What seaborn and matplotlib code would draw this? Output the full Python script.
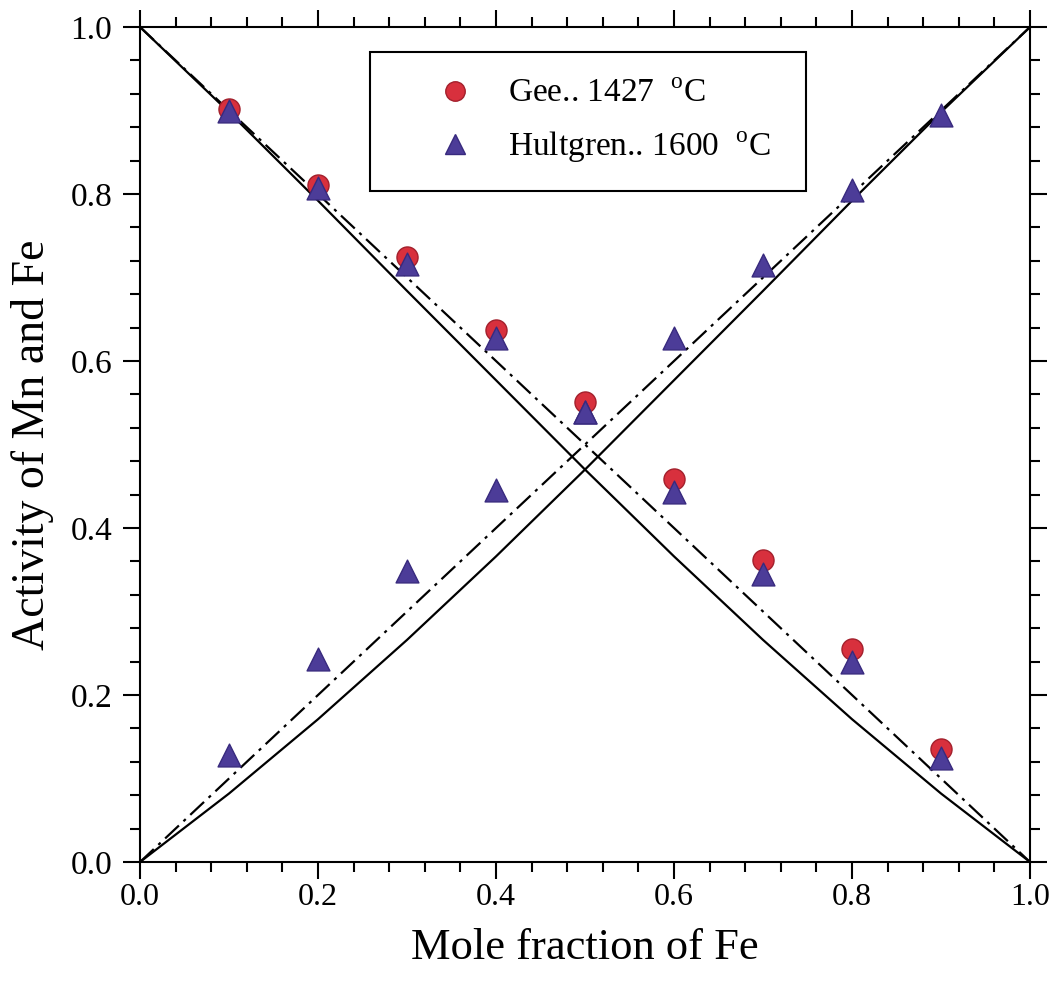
import matplotlib
matplotlib.use("Agg")
import matplotlib.pyplot as plt
from matplotlib.ticker import MultipleLocator, FormatStrFormatter
from matplotlib.lines import Line2D
import seaborn as sns
import pandas as pd

# Calculated activities (model) vs. mole fraction of Fe
x_calc = [0.0, 0.1, 0.2, 0.3, 0.4, 0.5, 0.6, 0.7, 0.8, 0.9, 1.0]
a_fe_calc = [0.0, 0.082, 0.171, 0.266, 0.366, 0.470, 0.577, 0.684, 0.792, 0.898, 1.0]
a_mn_calc = [1.0, 0.898, 0.792, 0.684, 0.577, 0.470, 0.366, 0.266, 0.171, 0.082, 0.0]

# Raoultian (ideal) activities
a_fe_ideal = [0.0, 0.1, 0.2, 0.3, 0.4, 0.5, 0.6, 0.7, 0.8, 0.9, 1.0]
a_mn_ideal = [1.0, 0.9, 0.8, 0.7, 0.6, 0.5, 0.4, 0.3, 0.2, 0.1, 0.0]

# Experimental activities
x_exp = [0.1, 0.2, 0.3, 0.4, 0.5, 0.6, 0.7, 0.8, 0.9]
gee_a_mn = [0.902, 0.811, 0.724, 0.637, 0.551, 0.459, 0.362, 0.255, 0.135]
hult_a_mn = [0.899, 0.807, 0.716, 0.627, 0.539, 0.443, 0.345, 0.239, 0.124]
hult_a_fe = [0.128, 0.243, 0.348, 0.445, 0.539, 0.627, 0.715, 0.805, 0.895]

label_gee = r"Gee.. 1427  $^{\mathrm{o}}$C"
label_hult = r"Hultgren.. 1600  $^{\mathrm{o}}$C"

sns.set_style("ticks")
plt.rcParams["font.family"] = ["Liberation Serif", "DejaVu Serif"]
plt.rcParams["mathtext.fontset"] = "custom"
plt.rcParams["mathtext.rm"] = "Liberation Serif"
for key in ["text.color", "axes.labelcolor", "xtick.color", "ytick.color",
            "axes.edgecolor"]:
    plt.rcParams[key] = "black"

fig = plt.figure(figsize=(10.56, 9.9), dpi=100)
ax = fig.add_axes([0.1326, 0.1293, 0.8428, 0.8434])

calc = pd.DataFrame({"x": x_calc, "fe": a_fe_calc, "mn": a_mn_calc,
                     "fe_id": a_fe_ideal, "mn_id": a_mn_ideal})
exp = pd.DataFrame({"x": x_exp, "gee_mn": gee_a_mn,
                    "hult_mn": hult_a_mn, "hult_fe": hult_a_fe})

dashdot = (0, (8.5, 2.8, 1.4, 2.8))
sns.lineplot(data=calc, x="x", y="fe", ax=ax, color="black", lw=1.6, sort=False)
sns.lineplot(data=calc, x="x", y="mn", ax=ax, color="black", lw=1.6, sort=False)
sns.lineplot(data=calc, x="x", y="fe_id", ax=ax, color="black", lw=1.6,
             linestyle=dashdot, sort=False)
sns.lineplot(data=calc, x="x", y="mn_id", ax=ax, color="black", lw=1.6,
             linestyle=dashdot, sort=False)

red_face, red_edge = "#d8303d", "#a3202c"
pur_face, pur_edge = "#4c3c98", "#382a7e"

sns.scatterplot(data=exp, x="x", y="gee_mn", ax=ax, marker="o", s=230,
                color=red_face, edgecolor=red_edge, linewidth=1.0, zorder=3)
sns.scatterplot(data=exp, x="x", y="hult_mn", ax=ax, marker="^", s=270,
                color=pur_face, edgecolor=pur_edge, linewidth=1.0, zorder=4)
sns.scatterplot(data=exp, x="x", y="hult_fe", ax=ax, marker="^", s=270,
                color=pur_face, edgecolor=pur_edge, linewidth=1.0, zorder=4)

ax.set_xlim(0, 1)
ax.set_ylim(0, 1)
ax.xaxis.set_major_locator(MultipleLocator(0.2))
ax.yaxis.set_major_locator(MultipleLocator(0.2))
ax.xaxis.set_minor_locator(MultipleLocator(0.04))
ax.yaxis.set_minor_locator(MultipleLocator(0.04))
ax.xaxis.set_major_formatter(FormatStrFormatter("%.1f"))
ax.yaxis.set_major_formatter(FormatStrFormatter("%.1f"))

for side in ["left", "right", "top", "bottom"]:
    ax.spines[side].set_visible(True)
    ax.spines[side].set_linewidth(1.5)
    ax.spines[side].set_color("black")

ax.tick_params(which="both", direction="out", top=True, right=True,
               width=1.5, color="black", labelcolor="black")
ax.tick_params(which="major", length=12)
ax.tick_params(which="minor", length=7)
ax.tick_params(axis="x", which="major", pad=3, labelsize=23)
ax.tick_params(axis="y", which="major", pad=8, labelsize=24)

ax.set_xlabel("Mole fraction of Fe", fontsize=32, labelpad=12, color="black")
ax.set_ylabel("Activity of Mn and Fe", fontsize=33, labelpad=12, color="black")

handles = [
    Line2D([], [], linestyle="none", marker="o", markersize=14,
           markerfacecolor=red_face, markeredgecolor=red_edge, markeredgewidth=1.0),
    Line2D([], [], linestyle="none", marker="^", markersize=15,
           markerfacecolor=pur_face, markeredgecolor=pur_edge, markeredgewidth=1.0),
]
leg = ax.legend(handles, [label_gee, label_hult], loc="upper left",
                bbox_to_anchor=(0.258, 0.80, 0.49, 0.17), mode="expand",
                borderaxespad=0, borderpad=0.8, handlelength=3.55,
                handletextpad=-0.2, labelspacing=0.6, fontsize=24,
                frameon=True, fancybox=False, shadow=False, framealpha=1)
leg.get_frame().set_edgecolor("black")
leg.get_frame().set_linewidth(1.5)
for t in leg.get_texts():
    t.set_color("black")

fig.savefig("out.png", dpi=100, facecolor="white")
